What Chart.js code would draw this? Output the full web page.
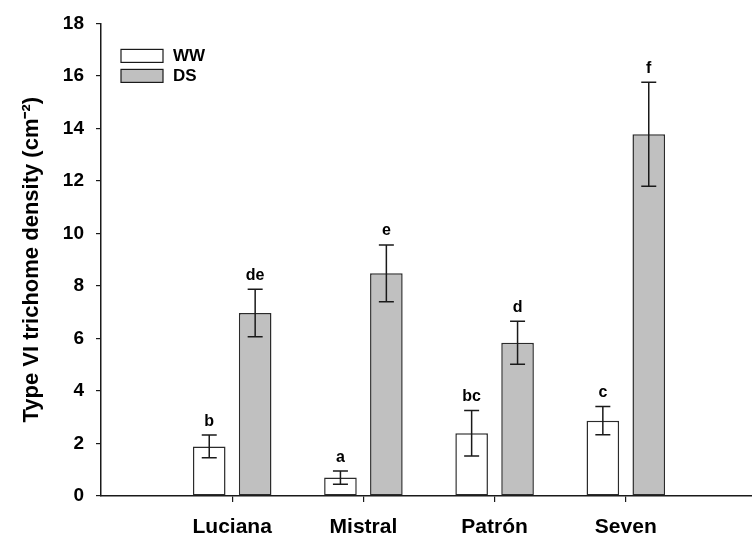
<!DOCTYPE html>
<html>
<head>
<meta charset="utf-8">
<script src="https://cdn.jsdelivr.net/npm/chart.js@4.4.0/dist/chart.umd.min.js"></script>
<style>
    html, body { margin: 0; padding: 0; background: #fff; overflow: hidden; }
    #wrap { width: 752px; height: 540px; overflow: hidden; }
</style>
</head>
<body>
<div id="wrap"><canvas id="trichomeChart" width="770" height="540"></canvas></div>
<script>
// empty slots on both ends keep the axis running past the cultivars
const categories = ['', 'Luciana', 'Mistral', 'Patrón', 'Seven', ''];
const wwMean = [null, 1.89, 0.70, 2.39, 2.87, null];
const wwErr = [null, 0.43, 0.25, 0.87, 0.54, null];
const wwLetters = [null, 'b', 'a', 'bc', 'c', null];
const dsMean = [null, 6.97, 8.48, 5.84, 13.78, null];
const dsErr = [null, 0.90, 1.08, 0.82, 1.98, null];
const dsLetters = [null, 'de', 'e', 'd', 'f', null];
const yTicks = [0, 2, 4, 6, 8, 10, 12, 14, 16, 18];

const FONT = '"Liberation Sans", Arial, sans-serif';
const INK = '#1a1a1a';

const errorBarPlugin = {
    id: 'errorBars',
    afterDatasetsDraw(chart) {
        const ctx = chart.ctx;
        const yScale = chart.scales.y;
        ctx.save();
        chart.data.datasets.forEach((ds, di) => {
            const meta = chart.getDatasetMeta(di);
            meta.data.forEach((bar, i) => {
                const v = ds.data[i];
                if (v === null || v === undefined) return;
                const e = ds.errors[i];
                const yHi = yScale.getPixelForValue(v + e);
                const yLo = yScale.getPixelForValue(v - e);
                const cap = 7.5;
                ctx.strokeStyle = INK;
                ctx.lineWidth = 1.5;
                ctx.beginPath();
                ctx.moveTo(bar.x, yHi);
                ctx.lineTo(bar.x, yLo);
                ctx.moveTo(bar.x - cap, yHi);
                ctx.lineTo(bar.x + cap, yHi);
                ctx.moveTo(bar.x - cap, yLo);
                ctx.lineTo(bar.x + cap, yLo);
                ctx.stroke();

                ctx.fillStyle = '#000';
                ctx.font = 'bold 16px ' + FONT;
                ctx.textAlign = 'center';
                ctx.textBaseline = 'alphabetic';
                ctx.fillText(ds.letters[i], bar.x, yHi - 9.5);
            });
        });
        ctx.restore();
    }
};

const boxLegendPlugin = {
    id: 'boxLegend',
    afterDraw(chart) {
        const ctx = chart.ctx;
        const area = chart.chartArea;
        ctx.save();
        chart.data.datasets.forEach((ds, di) => {
            const x = area.left + 20;
            const y = area.top + 26 + di * 20;
            ctx.fillStyle = ds.backgroundColor;
            ctx.fillRect(x, y, 42, 13);
            ctx.strokeStyle = INK;
            ctx.lineWidth = 1.2;
            ctx.strokeRect(x, y, 42, 13);
            ctx.fillStyle = '#000';
            ctx.font = 'bold 17px ' + FONT;
            ctx.textAlign = 'left';
            ctx.textBaseline = 'middle';
            ctx.fillText(ds.label, x + 52, y + 7);
        });
        ctx.restore();
    }
};

function buildChart() {
    const ctx = document.getElementById('trichomeChart').getContext('2d');
    new Chart(ctx, {
        type: 'bar',
        data: {
            labels: categories,
            datasets: [
                {
                    label: 'WW',
                    data: wwMean,
                    errors: wwErr,
                    letters: wwLetters,
                    backgroundColor: '#ffffff',
                    borderColor: '#2b2b2b',
                    borderWidth: 1.5,
                    borderSkipped: false
                },
                {
                    label: 'DS',
                    data: dsMean,
                    errors: dsErr,
                    letters: dsLetters,
                    backgroundColor: '#c0c0c0',
                    borderColor: '#2b2b2b',
                    borderWidth: 1.5,
                    borderSkipped: false
                }
            ]
        },
        options: {
            responsive: false,
            animation: false,
            categoryPercentage: 0.70,
            barPercentage: 0.71,
            layout: { padding: { top: 20, right: 9, left: 0, bottom: 0 } },
            plugins: {
                legend: { display: false },
                tooltip: { enabled: false }
            },
            scales: {
                x: {
                    offset: false,
                    afterFit: (scale) => { scale.height = 44; },
                    border: { display: true, color: INK, width: 1.5 },
                    grid: {
                        offset: false,
                        drawOnChartArea: false,
                        drawTicks: true,
                        tickLength: 6,
                        lineWidth: 1.2,
                        color: (c) => (categories[c.index] ? INK : 'rgba(0,0,0,0)')
                    },
                    ticks: {
                        color: '#000',
                        padding: 13,
                        maxRotation: 0,
                        autoSkip: false,
                        font: { family: FONT, size: 21, weight: 'bold' }
                    }
                },
                y: {
                    min: 0,
                    max: 18,
                    afterFit: (scale) => { scale.width = 101; },
                    afterBuildTicks: (scale) => {
                        scale.ticks = yTicks.map(v => ({ value: v }));
                    },
                    border: { display: true, color: INK, width: 1.5 },
                    grid: {
                        drawOnChartArea: false,
                        drawTicks: true,
                        tickLength: 5,
                        lineWidth: 1.2,
                        color: INK
                    },
                    ticks: {
                        color: '#000',
                        padding: 12,
                        font: { family: FONT, size: 19, weight: 'bold' }
                    },
                    title: {
                        display: true,
                        text: 'Type VI trichome density (cm⁻²)',
                        color: '#000',
                        padding: { top: 19, bottom: 0 },
                        font: { family: FONT, size: 22, weight: 'bold' }
                    }
                }
            }
        },
        plugins: [errorBarPlugin, boxLegendPlugin]
    });
}

document.addEventListener('DOMContentLoaded', buildChart);
</script>
</body>
</html>
